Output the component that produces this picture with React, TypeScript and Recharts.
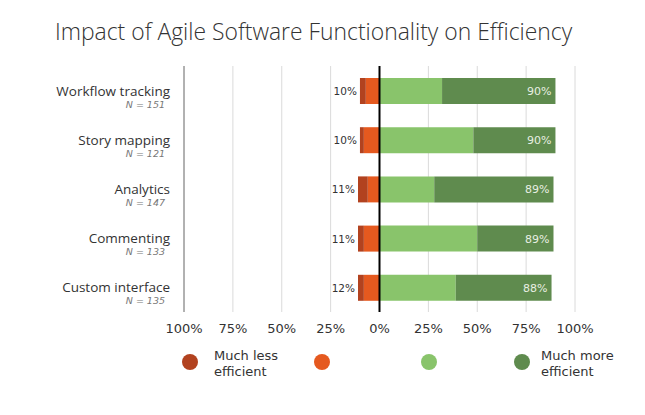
import React from "react";
import {
  BarChart,
  Bar,
  XAxis,
  YAxis,
  CartesianGrid,
  ReferenceLine,
  LabelList,
} from "recharts";

const categories = [
  "Workflow tracking",
  "Story mapping",
  "Analytics",
  "Commenting",
  "Custom interface",
];
const sampleSizes = [151, 121, 147, 133, 135];

// shares of respondents, in percent
const muchLess = [3, 2, 5, 3, 3];
const less = [7, 8, 6, 8, 8];
const more = [32, 48, 28, 50, 39];
const muchMore = [58, 42, 61, 39, 49];

// totals as printed on the chart
const lessTotals = [10, 10, 11, 11, 12];
const moreTotals = [90, 90, 89, 89, 88];

const xTicks = [-100, -75, -50, -25, 0, 25, 50, 75, 100];

const series = [
  { key: "less", color: "#e5591f", legend: "" },
  { key: "muchLess", color: "#b2421f", legend: "Much less efficient" },
  { key: "more", color: "#89c46b", legend: "" },
  { key: "muchMore", color: "#5f8b4e", legend: "Much more efficient" },
];

const legendOrder = ["muchLess", "less", "more", "muchMore"];

const data = categories.map((name, i) => ({
  name,
  n: sampleSizes[i],
  muchLess: -muchLess[i],
  less: -less[i],
  more: more[i],
  muchMore: muchMore[i],
  lessLabel: lessTotals[i] + "%",
  moreLabel: moreTotals[i] + "%",
}));

const sans = "'DejaVu Sans', Verdana, sans-serif";
const open = "'Open Sans', sans-serif";

function CategoryTick(props: any) {
  const { x, y, payload } = props;
  const row = data[payload.index] || data.find((d) => d.name === payload.value);
  return (
    <g>
      <text
        x={x}
        y={y}
        dy={5}
        textAnchor="end"
        fontFamily={open}
        fontSize={13.5}
        fill="#333"
      >
        {payload.value}
      </text>
      <text
        x={x - 5}
        y={y}
        dy={17}
        textAnchor="end"
        fontFamily={sans}
        fontStyle="italic"
        fontSize={9.5}
        fill="#777"
      >
        {"N = " + (row ? row.n : "")}
      </text>
    </g>
  );
}

function LeftLabel(props: any) {
  const { x, y, width, height, value } = props;
  const left = Math.min(x, x + width);
  return (
    <text
      x={left - 3}
      y={y + height / 2}
      dy={4}
      textAnchor="end"
      fontFamily={sans}
      fontSize={10.5}
      fill="#333"
    >
      {value}
    </text>
  );
}

function RightLabel(props: any) {
  const { x, y, width, height, value } = props;
  const right = Math.max(x, x + width);
  return (
    <text
      x={right - 4}
      y={y + height / 2}
      dy={4}
      textAnchor="end"
      fontFamily={sans}
      fontSize={11}
      fill="#e8efe2"
    >
      {value}
    </text>
  );
}

const legendLefts = [182, 314, 421, 514];
const legendGaps = [16, 16, 16, 11];

export default function App() {
  return (
    <div
      style={{
        position: "absolute",
        left: 0,
        top: 0,
        width: 645,
        height: 415,
        background: "#fff",
      }}
    >
      <style>{"body{margin:0}"}</style>
      <div
        style={{
          position: "absolute",
          left: 55,
          top: 16,
          fontFamily: open,
          fontWeight: 300,
          fontSize: 22.9,
          color: "#333",
          whiteSpace: "nowrap",
        }}
      >
        Impact of Agile Software Functionality on Efficiency
      </div>

      <BarChart
        width={645}
        height={415}
        data={data}
        layout="vertical"
        stackOffset="sign"
        barSize={26}
        margin={{ top: 66, right: 70, bottom: 73, left: 0 }}
      >
        <CartesianGrid horizontal={false} stroke="#dadada" />
        <XAxis
          type="number"
          domain={[-100, 100]}
          ticks={xTicks}
          tickFormatter={(v: number) => Math.abs(v) + "%"}
          axisLine={false}
          tickLine={false}
          tickSize={10}
          tick={{ fontFamily: sans, fontSize: 13, fill: "#333" }}
          height={30}
        />
        <YAxis
          type="category"
          dataKey="name"
          width={184}
          axisLine={{ stroke: "#777" }}
          tickLine={false}
          tickSize={14}
          tickMargin={0}
          tick={<CategoryTick />}
        />
        {series.map((s) => (
          <Bar
            key={s.key}
            dataKey={s.key}
            stackId="a"
            fill={s.color}
            isAnimationActive={false}
          >
            {s.key === "muchLess" && (
              <LabelList dataKey="lessLabel" content={<LeftLabel />} />
            )}
            {s.key === "muchMore" && (
              <LabelList dataKey="moreLabel" content={<RightLabel />} />
            )}
          </Bar>
        ))}
        <ReferenceLine x={0} stroke="#000" strokeWidth={2} />
      </BarChart>

      {legendOrder.map((k, i) => {
        const s = series.find((d) => d.key === k)!;
        return (
          <div
            key={k}
            style={{
              position: "absolute",
              left: legendLefts[i],
              top: 348,
              display: "flex",
              alignItems: "flex-start",
            }}
          >
            <div
              style={{
                width: 16,
                height: 16,
                borderRadius: 8,
                background: s.color,
                marginTop: 6,
              }}
            />
            {s.legend && (
              <div
                style={{
                  marginLeft: legendGaps[i],
                  width: 90,
                  fontFamily: sans,
                  fontSize: 13,
                  lineHeight: "16px",
                  color: "#333",
                }}
              >
                {s.legend}
              </div>
            )}
          </div>
        );
      })}
    </div>
  );
}
